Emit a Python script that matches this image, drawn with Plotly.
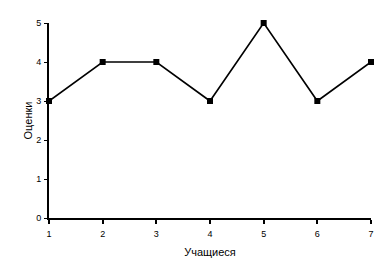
import plotly.graph_objects as go

students = [1, 2, 3, 4, 5, 6, 7]
grades = [3, 4, 4, 3, 5, 3, 4]
x_title = "Учащиеся"
y_title = "Оценки"

fig = go.Figure()
fig.add_trace(go.Scatter(
    x=students, y=grades, mode="lines+markers",
    line=dict(color="black", width=1.6),
    marker=dict(symbol="square", size=6, color="black"),
    cliponaxis=False, showlegend=False,
))
fig.update_layout(
    width=389, height=277,
    margin=dict(l=49, r=18, t=23, b=59),
    plot_bgcolor="white", paper_bgcolor="white",
    font=dict(family="Liberation Sans, Arial, sans-serif", size=9, color="black"),
)
fig.update_xaxes(
    range=[1, 7], tickvals=students, showgrid=False, zeroline=False,
    showline=True, linecolor="black", linewidth=2,
    ticks="outside", ticklen=4, tickwidth=2, tickcolor="black",
    ticklabelstandoff=2,
    title=dict(text=x_title, standoff=11, font=dict(size=11)),
)
fig.update_yaxes(
    range=[0, 5], tickvals=[0, 1, 2, 3, 4, 5], showgrid=False, zeroline=False,
    showline=True, linecolor="black", linewidth=2,
    ticks="outside", ticklen=3, tickwidth=1, tickcolor="black",
    ticklabelstandoff=1,
    title=dict(text=y_title, standoff=1, font=dict(size=11)),
)
fig.write_html("out.html")
